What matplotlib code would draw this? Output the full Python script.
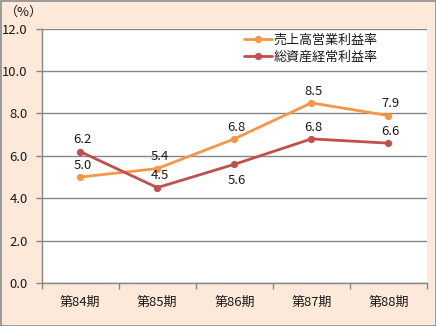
import matplotlib
matplotlib.use("Agg")
import matplotlib.pyplot as plt
from matplotlib.patches import Rectangle

plt.rcParams['font.family'] = ['Noto Sans CJK JP', 'DejaVu Sans']

categories = ["第84期", "第85期", "第86期", "第87期", "第88期"]
sales_margin = [5.0, 5.4, 6.8, 8.5, 7.9]       # 売上高営業利益率
asset_return = [6.2, 4.5, 5.6, 6.8, 6.6]       # 総資産経常利益率
series_names = ["売上高営業利益率", "総資産経常利益率"]
yticks = [0, 2, 4, 6, 8, 10, 12]
# label placement for each point: +1 above, -1 below
sales_pos = [1, 1, 1, 1, 1]
asset_pos = [1, 1, -1, 1, 1]

ORANGE = "#F79646"
RED = "#C0504D"
PEACH = "#FDE9D9"
GRID = "#868686"
TXT = "#1a1a1a"
FS = 9.4

fig = plt.figure(figsize=(4.36, 3.26), dpi=100, facecolor=PEACH)
fig.patches.append(Rectangle((0.5 / 436, 0.5 / 326), 435 / 436, 325 / 326,
                             transform=fig.transFigure, fill=False,
                             edgecolor="#8c8c8c", linewidth=1.2))

ax = fig.add_axes([41.7 / 436, 1 - 283 / 326, (427 - 41.7) / 436, (283 - 28.7) / 326])
ax.set_facecolor("white")

x = list(range(len(categories)))
l1, = ax.plot(x, sales_margin, color=ORANGE, lw=2.0, marker="o", ms=4.2,
              solid_capstyle="round", zorder=3)
l2, = ax.plot(x, asset_return, color=RED, lw=2.0, marker="o", ms=4.2,
              solid_capstyle="round", zorder=3)

for vals, pos in ((sales_margin, sales_pos), (asset_return, asset_pos)):
    for xi, v, p in zip(x, vals, pos):
        ax.annotate(f"{v:.1f}", (xi, v), xytext=(1.5, 8.5 if p > 0 else -11.5),
                    textcoords="offset points", ha="center",
                    va="center", fontsize=FS, color=TXT, zorder=4)

ax.set_xlim(-0.5, len(categories) - 0.5)
ax.set_ylim(0, 12)
ax.set_yticks(yticks)
ax.set_yticklabels([f"{t:.1f}" for t in yticks])
ax.yaxis.grid(True, color=GRID, lw=1.0)
ax.set_axisbelow(True)

# category labels centred, tick marks on the boundaries
ax.set_xticks(x)
ax.set_xticklabels(categories)
ax.set_xticks([i - 0.5 for i in range(len(categories) + 1)], minor=True)
ax.tick_params(axis="x", which="major", length=0, pad=9, labelsize=FS, labelcolor=TXT)
ax.tick_params(axis="x", which="minor", length=4, width=1, color=GRID)
ax.tick_params(axis="y", length=4, width=1, color=GRID, pad=6, labelsize=FS, labelcolor=TXT)

for s in ("top", "right"):
    ax.spines[s].set_visible(False)
for s in ("left", "bottom"):
    ax.spines[s].set_color(GRID)
    ax.spines[s].set_linewidth(1.0)

fig.text(5 / 436, 1 - 12 / 326, "（%）", fontsize=FS, color=TXT, va="center", ha="left")

leg = ax.legend([l1, l2], series_names, loc="upper left",
                bbox_to_anchor=(241 / 436, 1 - 31 / 326), bbox_transform=fig.transFigure,
                frameon=False, fontsize=FS, handlelength=2.2, handletextpad=0.1,
                labelspacing=0.3, borderaxespad=0, borderpad=0.2)
for t in leg.get_texts():
    t.set_color(TXT)

fig.savefig("out.png", dpi=100, facecolor=PEACH)
